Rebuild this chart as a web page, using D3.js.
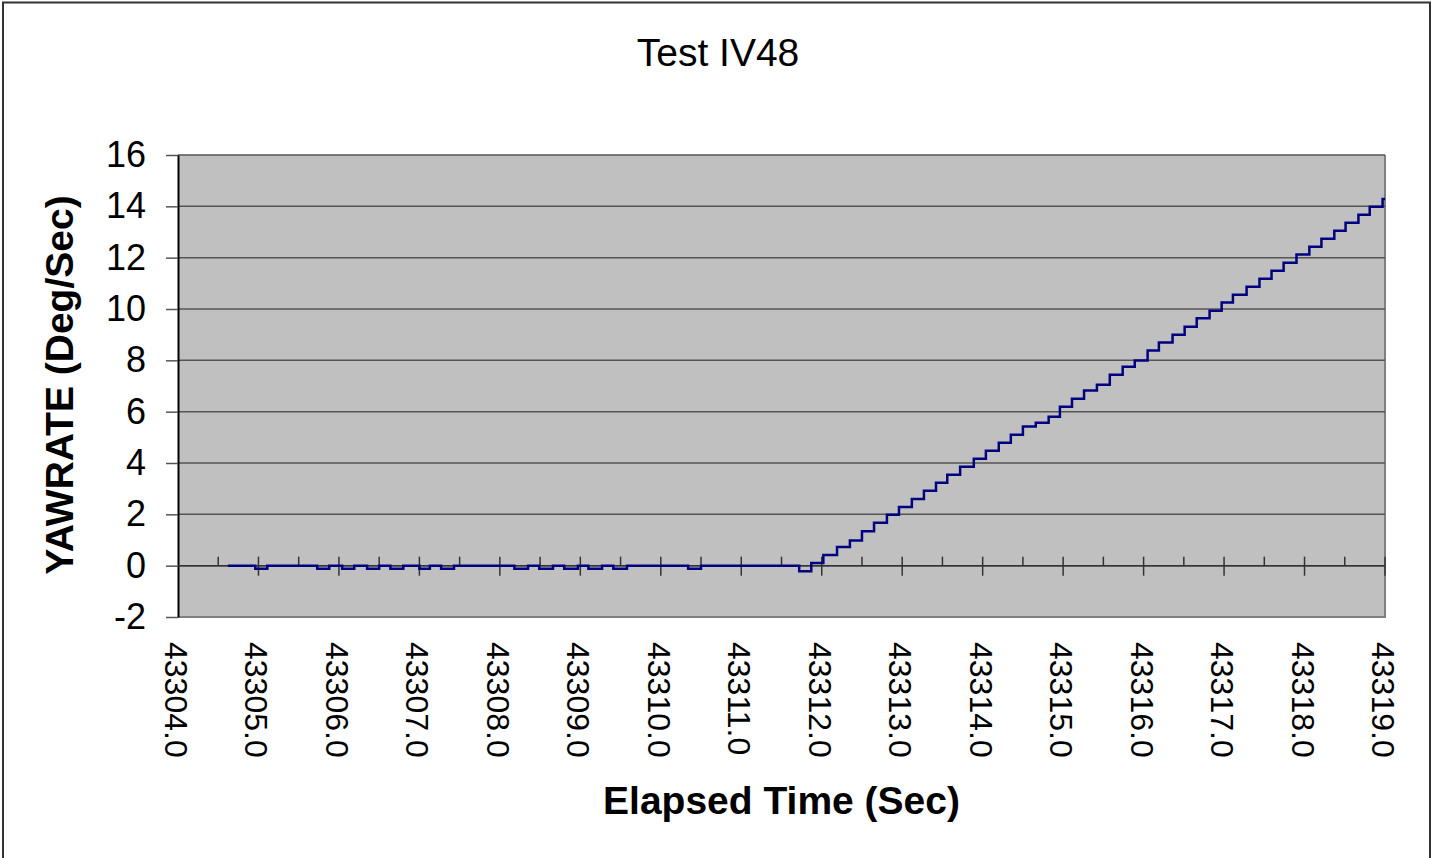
<!DOCTYPE html>
<html>
<head>
<meta charset="utf-8">
<title>Test IV48</title>
<script src="https://cdn.jsdelivr.net/npm/d3@7"></script>
<style>
  body { margin: 0; background: #fff; }
  svg text { font-family: Arial, "Liberation Sans", sans-serif; fill: #000; }
</style>
</head>
<body>
<svg id="chart" width="1435" height="858"></svg>
<script>
// chart text
const chartTitle = "Test IV48";
const xTitle = "Elapsed Time (Sec)";
const yTitle = "YAWRATE (Deg/Sec)";

// axis ticks
const xTickValues = [43304, 43305, 43306, 43307, 43308, 43309, 43310, 43311,
                     43312, 43313, 43314, 43315, 43316, 43317, 43318, 43319];
const yTickValues = [-2, 0, 2, 4, 6, 8, 10, 12, 14, 16];

// yaw rate samples (value holds until next time)
const timeSec = [
  43304.62, 43304.96, 43305.11, 43305.73, 43305.88, 43306.04, 43306.19,
  43306.35, 43306.50, 43306.64, 43306.80, 43307.00, 43307.13, 43307.27,
  43307.43, 43308.18, 43308.35, 43308.49, 43308.66, 43308.80, 43308.97,
  43309.10, 43309.27, 43309.41, 43309.58, 43310.34, 43310.50, 43311.72,
  43311.87, 43312.02, 43312.19, 43312.35, 43312.50, 43312.65, 43312.81,
  43312.96, 43313.12, 43313.27, 43313.42, 43313.56, 43313.72, 43313.89,
  43314.04, 43314.20, 43314.35, 43314.50, 43314.66, 43314.82, 43314.96,
  43315.11, 43315.26, 43315.42, 43315.58, 43315.74, 43315.89, 43316.05,
  43316.19, 43316.36, 43316.51, 43316.66, 43316.82, 43316.97, 43317.11,
  43317.28, 43317.44, 43317.59, 43317.74, 43317.90, 43318.06, 43318.21,
  43318.37, 43318.51, 43318.67, 43318.81, 43318.97, 43319.00
];
const yawRate = [
  0, -0.12, 0, -0.12, 0, -0.12, 0,
  -0.12, 0, -0.12, 0, -0.12, 0, -0.12,
  0, -0.12, 0, -0.12, 0, -0.12, 0,
  -0.12, 0, -0.12, 0, -0.12, 0, -0.22,
  0.1, 0.42, 0.73, 0.98, 1.34, 1.67, 1.98,
  2.29, 2.60, 2.92, 3.23, 3.54, 3.85, 4.17,
  4.48, 4.79, 5.10, 5.42, 5.57, 5.80, 6.19,
  6.50, 6.82, 7.05, 7.44, 7.75, 7.99, 8.38,
  8.69, 9.00, 9.31, 9.64, 9.93, 10.25, 10.56,
  10.87, 11.18, 11.49, 11.80, 12.12, 12.43, 12.74,
  13.05, 13.36, 13.67, 13.98, 14.29, 14.29
];

const svg = d3.select("#chart");
const plot = { left: 178, right: 1385, top: 155, bottom: 617 };

const x = d3.scaleLinear().domain([43304, 43319]).range([plot.left, plot.right]);
const y = d3.scaleLinear().domain([-2, 16]).range([plot.bottom, plot.top]);

// outer frame
svg.append("rect")
  .attr("x", 3).attr("y", 2.5)
  .attr("width", 1427).attr("height", 870)
  .attr("fill", "#fff").attr("stroke", "#333").attr("stroke-width", 2);

// plot background
svg.append("rect")
  .attr("x", plot.left).attr("y", plot.top)
  .attr("width", plot.right - plot.left).attr("height", plot.bottom - plot.top)
  .attr("fill", "#c0c0c0");

// border right/bottom
svg.append("path")
  .attr("d", `M${plot.right},${plot.top}V${plot.bottom}H${plot.left}`)
  .attr("fill", "none").attr("stroke", "#808080").attr("stroke-width", 2);

// horizontal gridlines
svg.append("g")
  .selectAll("line")
  .data(yTickValues.filter(d => d !== -2))
  .join("line")
  .attr("x1", plot.left).attr("x2", plot.right)
  .attr("y1", d => y(d)).attr("y2", d => y(d))
  .attr("stroke", "#555").attr("stroke-width", 1.5);

// y axis
const yAxis = svg.append("g")
  .attr("transform", `translate(${plot.left},0)`)
  .call(d3.axisLeft(y).tickValues(yTickValues).tickSize(12).tickSizeOuter(0).tickPadding(20).tickFormat(d => String(d)));
yAxis.select(".domain").attr("stroke", "#000").attr("stroke-width", 2);
yAxis.selectAll(".tick line").attr("stroke", "#555").attr("stroke-width", 1.5);
yAxis.selectAll("text")
  .style("font-size", "36px")
  .attr("fill", "#000");

// x axis at y = 0
const y0 = y(0);
svg.append("line")
  .attr("x1", plot.left).attr("x2", plot.right)
  .attr("y1", y0).attr("y2", y0)
  .attr("stroke", "#333").attr("stroke-width", 1.5);

// minor ticks (half seconds, above axis)
const minorTicks = xTickValues.slice(0, -1).map(d => d + 0.5);
svg.append("g")
  .selectAll("line")
  .data(minorTicks)
  .join("line")
  .attr("x1", d => x(d)).attr("x2", d => x(d))
  .attr("y1", y0 - 9).attr("y2", y0)
  .attr("stroke", "#333").attr("stroke-width", 1.5);

// major ticks (crossing)
svg.append("g")
  .selectAll("line")
  .data(xTickValues.slice(1))
  .join("line")
  .attr("x1", d => x(d)).attr("x2", d => x(d))
  .attr("y1", y0 - 9).attr("y2", y0 + 10)
  .attr("stroke", "#333").attr("stroke-width", 1.5);

// x tick labels, rotated
svg.append("g")
  .selectAll("text")
  .data(xTickValues)
  .join("text")
  .attr("transform", d => `translate(${x(d) - 2},642) rotate(90)`)
  .attr("text-anchor", "start")
  .attr("dominant-baseline", "central")
  .style("font-size", "32px")
  .text(d => d.toFixed(1));

// data line
const points = timeSec.map((t, i) => [t, yawRate[i]]);
const line = d3.line()
  .x(d => x(d[0]))
  .y(d => y(d[1]))
  .curve(d3.curveStepAfter);

svg.append("path")
  .datum(points)
  .attr("d", line)
  .attr("fill", "none")
  .attr("stroke", "#000080")
  .attr("stroke-width", 2.5);

// titles
svg.append("text")
  .attr("x", 718).attr("y", 66)
  .attr("text-anchor", "middle")
  .style("font-size", "39px")
  .text(chartTitle);

svg.append("text")
  .attr("x", (plot.left + plot.right) / 2).attr("y", 814)
  .attr("text-anchor", "middle")
  .style("font-size", "39px")
  .style("font-weight", "bold")
  .text(xTitle);

svg.append("text")
  .attr("transform", `translate(73,${(plot.top + plot.bottom) / 2 - 1}) rotate(-90)`)
  .attr("text-anchor", "middle")
  .style("font-size", "39px")
  .style("font-weight", "bold")
  .text(yTitle);
</script>
</body>
</html>
